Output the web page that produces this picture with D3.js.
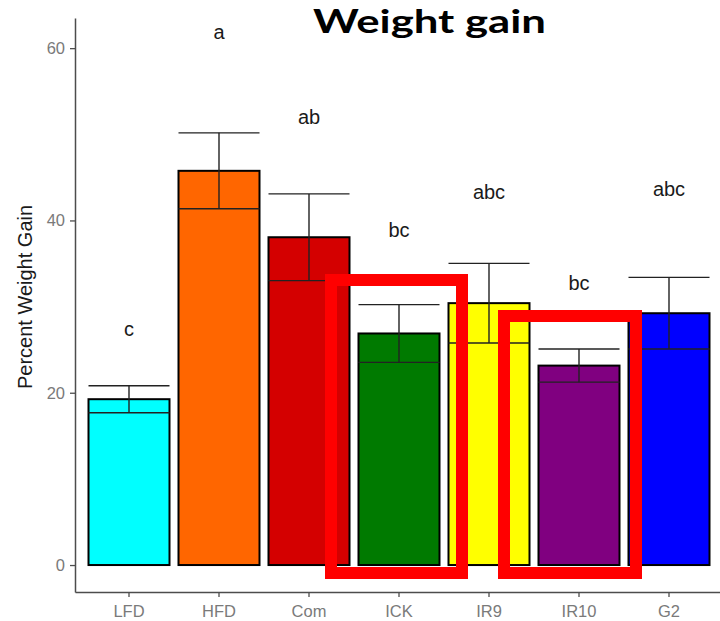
<!DOCTYPE html>
<html>
<head>
<meta charset="utf-8">
<script src="https://cdn.jsdelivr.net/npm/d3@7"></script>
<style>
  html, body { margin: 0; padding: 0; background: #fff; }
  svg { display: block; }
</style>
</head>
<body>
<svg id="chart" width="720" height="621"></svg>
<script>
// Percent weight gain by diet group (mean ± SE) with significance letters
const groups  = ["LFD", "HFD", "Com", "ICK", "IR9", "IR10", "G2"];
const means   = [19.25, 45.76, 38.05, 26.88, 30.40, 23.15, 29.23];
const ses     = [1.57, 4.41, 5.03, 3.35, 4.62, 1.92, 4.16];
const letters = ["c", "a", "ab", "bc", "abc", "bc", "abc"];
const letterY = [27.4, 61.9, 52.0, 38.9, 43.3, 32.7, 43.6];
const colors  = ["#00FFFF", "#FF6600", "#D40000", "#007A00", "#FFFF00", "#800080", "#0000FF"];
const yTicks  = [0, 20, 40, 60];

const svg = d3.select("#chart");

// panel geometry
const panelLeft = 75, panelRight = 723, panelBottom = 592, panelTop = 18;
const yMin = -3.13, yMax = 63.5;

const x = d3.scaleBand()
  .domain(groups)
  .range([panelLeft, panelRight])
  .paddingInner(0.1)
  .paddingOuter(0.15);

const y = d3.scaleLinear()
  .domain([yMin, yMax])
  .range([panelBottom, panelTop]);

const data = groups.map((g, i) => ({
  g, mean: means[i], se: ses[i], letter: letters[i], ly: letterY[i], color: colors[i]
}));

// bars
svg.append("g").selectAll("rect")
  .data(data)
  .join("rect")
  .attr("x", d => x(d.g))
  .attr("width", x.bandwidth())
  .attr("y", d => y(d.mean))
  .attr("height", d => y(0) - y(d.mean))
  .attr("fill", d => d.color)
  .attr("stroke", "#000")
  .attr("stroke-width", 2);

// error bars
const eb = svg.append("g").attr("stroke", "#222").attr("stroke-width", 1.4).attr("fill", "none");
data.forEach(d => {
  const cx = x(d.g) + x.bandwidth() / 2;
  const x0 = x(d.g), x1 = x(d.g) + x.bandwidth();
  const hi = y(d.mean + d.se), lo = y(d.mean - d.se);
  eb.append("line").attr("x1", cx).attr("x2", cx).attr("y1", hi).attr("y2", lo);
  eb.append("line").attr("x1", x0).attr("x2", x1).attr("y1", hi).attr("y2", hi);
  eb.append("line").attr("x1", x0).attr("x2", x1).attr("y1", lo).attr("y2", lo);
});

// significance letters
svg.append("g").selectAll("text")
  .data(data)
  .join("text")
  .attr("x", d => x(d.g) + x.bandwidth() / 2)
  .attr("y", d => y(d.ly))
  .attr("dy", "0.35em")
  .attr("text-anchor", "middle")
  .attr("font-family", "Liberation Sans, Arial, sans-serif")
  .attr("font-size", 20)
  .attr("fill", "#1a1a1a")
  .text(d => d.letter);

// y axis
const yAxis = svg.append("g")
  .attr("transform", `translate(${panelLeft},0)`)
  .call(d3.axisLeft(y).tickValues(yTicks).tickSize(5).tickPadding(5).tickSizeOuter(0));
yAxis.select(".domain").attr("stroke", "#4d4d4d").attr("stroke-width", 1.5);
yAxis.selectAll(".tick line").attr("stroke", "#4d4d4d").attr("stroke-width", 1.3);
yAxis.selectAll(".tick text")
  .attr("font-family", "Liberation Sans, Arial, sans-serif")
  .attr("font-size", 16.5)
  .attr("fill", "#7a7a7a");

// x axis
const xAxis = svg.append("g")
  .attr("transform", `translate(0,${panelBottom})`)
  .call(d3.axisBottom(x).tickSize(5).tickPadding(8).tickSizeOuter(0));
xAxis.select(".domain").attr("stroke", "#4d4d4d").attr("stroke-width", 1.5);
xAxis.selectAll(".tick line").attr("stroke", "#4d4d4d").attr("stroke-width", 1.3);
xAxis.selectAll(".tick text")
  .attr("font-family", "Liberation Sans, Arial, sans-serif")
  .attr("font-size", 16.5)
  .attr("fill", "#7a7a7a");

// y axis title
svg.append("text")
  .attr("transform", `translate(25,${(panelTop + panelBottom) / 2 - 8}) rotate(-90)`)
  .attr("text-anchor", "middle")
  .attr("dy", "0.35em")
  .attr("font-family", "Liberation Sans, Arial, sans-serif")
  .attr("font-size", 20)
  .attr("fill", "#1a1a1a")
  .text("Percent Weight Gain");

// title
svg.append("text")
  .attr("x", 313)
  .attr("y", 33)
  .attr("font-family", "Lato, Open Sans, sans-serif")
  .attr("font-weight", "bold")
  .attr("font-size", 33)
  .attr("textLength", 233)
  .attr("lengthAdjust", "spacingAndGlyphs")
  .attr("fill", "#000")
  .text("Weight gain");

// highlight boxes around ICK and IR10
const boxes = [
  { x0: 331, y0: 280, x1: 462, y1: 573 },
  { x0: 504, y0: 316, x1: 636, y1: 573 }
];
svg.append("g").selectAll("rect")
  .data(boxes)
  .join("rect")
  .attr("x", d => d.x0)
  .attr("y", d => d.y0)
  .attr("width", d => d.x1 - d.x0)
  .attr("height", d => d.y1 - d.y0)
  .attr("fill", "none")
  .attr("stroke", "#FF0000")
  .attr("stroke-width", 12);
</script>
</body>
</html>
